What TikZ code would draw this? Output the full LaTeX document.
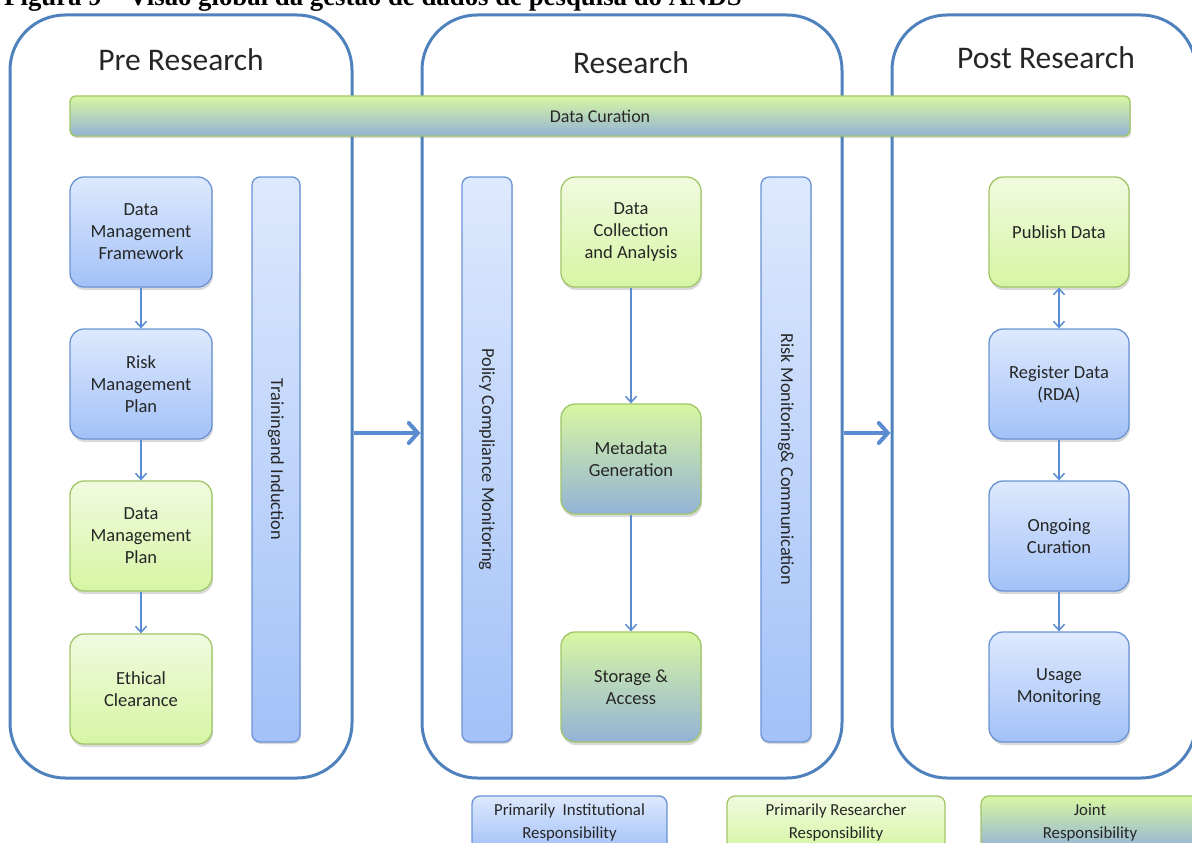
\documentclass[tikz,border=0pt]{standalone}
\usepackage{fontspec}
\setmainfont{Carlito}
\newfontfamily\captionserif{Liberation Serif}
\usetikzlibrary{arrows.meta,shadows,calc}

\definecolor{pline}{HTML}{4F81BD}
\definecolor{flowblue}{HTML}{5B8BD0}
\definecolor{bluebd}{HTML}{6A93D4}
\definecolor{bluetop}{HTML}{DDE9FD}
\definecolor{bluebot}{HTML}{A3C1F8}
\definecolor{greenbd}{HTML}{A2C568}
\definecolor{greentop}{HTML}{F1FADF}
\definecolor{greenbot}{HTML}{D6F5A4}
\definecolor{jointtop}{HTML}{D8F7A2}
\definecolor{jointbot}{HTML}{93B2D6}

\tikzset{
  panel/.style={draw=pline, line width=3pt, rounded corners=55pt, inner sep=0pt},
  phasetitle/.style={font=\fontsize{31.5}{36}\selectfont, text=black!85},
  card/.style={rounded corners=14pt, line width=1.3pt, align=center,
    minimum width=142pt, minimum height=110pt, inner sep=2pt,
    font=\fontsize{18.5}{22}\selectfont, text=black!85,
    drop shadow={opacity=0.3, shadow xshift=1pt, shadow yshift=-3pt}},
  inst/.style={draw=bluebd, top color=bluetop, bottom color=bluebot},
  resr/.style={draw=greenbd, top color=greentop, bottom color=greenbot},
  joint/.style={draw=greenbd, top color=jointtop, bottom color=jointbot},
  vbar/.style={rounded corners=8pt, line width=1.3pt, inner sep=0pt,
    minimum height=565pt,
    drop shadow={opacity=0.3, shadow xshift=1pt, shadow yshift=-2pt}},
  vlabel/.style={rotate=-90, font=\fontsize{18.3}{20}\selectfont, text=black!85},
  legend/.style={rounded corners=8pt, line width=1.3pt, align=center,
    minimum height=54pt, inner sep=2pt,
    font=\fontsize{16.8}{23}\selectfont, text=black!85},
  flow/.style={draw=flowblue, line width=1.5pt,
    -{Straight Barb[length=6pt,width=11pt]}},
  bothflow/.style={draw=flowblue, line width=1.5pt,
    {Straight Barb[length=6pt,width=11pt]}-{Straight Barb[length=6pt,width=11pt]}},
  bigflow/.style={draw=flowblue, line width=4pt,
    -{Straight Barb[length=9pt,width=20pt,line cap=round]}}
}

\begin{document}
\begin{tikzpicture}[x=1pt,y=-1pt]
\useasboundingbox (0,0) rectangle (1192,843);

% figure caption, partly above the page edge
\node[anchor=base west, inner sep=0pt,
      font=\captionserif\bfseries\fontsize{26.8}{30}\selectfont]
      (caption) at (4,6) {Figura 9 – Visão global da gestão de dados de pesquisa do ANDS};

% the three phases
\node[panel, minimum width=342pt, minimum height=763pt] (pre)  at (181,396.5) {};
\node[panel, minimum width=420pt, minimum height=763pt] (res)  at (632,396.5) {};
\node[panel, minimum width=304pt, minimum height=763pt] (post) at (1044,396.5) {};

\node[phasetitle] (pretitle)  at (181,60)  {Pre Research};
\node[phasetitle] (restitle)  at (631,63)  {Research};
\node[phasetitle] (posttitle) at (1046,58) {Post Research};

% movement between phases
\coordinate (mid) at (0,433);
\draw[bigflow] (pre.east |- mid) -- (res.west |- mid);
\draw[bigflow] (res.east |- mid) -- (post.west |- mid);

% curation runs across all phases
\node[joint, rounded corners=6pt, line width=1.3pt, minimum width=1060pt,
      minimum height=40pt, font=\fontsize{18}{20}\selectfont, text=black!85,
      drop shadow={opacity=0.3, shadow xshift=1pt, shadow yshift=-2pt}]
      (curation) at (600,116) {Data Curation};

% pre research
\node[card, inst] (dmf) at (141,232) {Data\\Management\\Framework};
\node[card, inst] (rmp) at (141,384) {Risk\\Management\\Plan};
\node[card, resr] (dmp) at (141,536) {Data\\Management\\Plan};
\node[card, resr] (ethics) at (141,689) {Ethical\\Clearance};
\draw[flow] (dmf) -- (rmp);
\draw[flow] (rmp) -- (dmp);
\draw[flow] (dmp) -- (ethics);

\node[vbar, inst, minimum width=48pt] (train) at (276,459.5) {};
\node[vlabel] (trainlbl) at (train.center) {Trainingand Induction};

% research
\node[vbar, inst, minimum width=50pt] (policy) at (487,459.5) {};
\node[vlabel] (policylbl) at (policy.center) {Policy Compliance Monitoring};

\node[card, resr, minimum width=140pt] (collect) at (631,232) {Data\\Collection\\and Analysis};
\node[card, joint, minimum width=140pt] (meta) at (631,459) {Metadata\\Generation};
\node[card, joint, minimum width=140pt] (store) at (631,687) {Storage \&\\Access};
\draw[flow] (collect) -- (meta);
\draw[flow] (meta) -- (store);

\node[vbar, inst, minimum width=50pt] (risk) at (786,459.5) {};
\node[vlabel] (risklbl) at (risk.center) {Risk Monitoring\& Communication};

% post research
\node[card, resr, minimum width=140pt] (publish) at (1059,232) {Publish Data};
\node[card, inst, minimum width=140pt] (register) at (1059,384) {Register Data\\(RDA)};
\node[card, inst, minimum width=140pt] (ongoing) at (1059,536) {Ongoing\\Curation};
\node[card, inst, minimum width=140pt] (usage) at (1059,687) {Usage\\Monitoring};
\draw[bothflow] (publish) -- (register);
\draw[flow] (register) -- (ongoing);
\draw[flow] (ongoing) -- (usage);

% key
\node[legend, inst, minimum width=195pt] (keyinst)  at (569.5,823) {Primarily\ \ Institutional\\Responsibility};
\node[legend, resr, minimum width=218pt] (keyres)   at (836,823)   {Primarily Researcher\\Responsibility};
\node[legend, joint, minimum width=218pt] (keyjoint) at (1090,823) {Joint\\Responsibility};
\end{tikzpicture}
\end{document}
